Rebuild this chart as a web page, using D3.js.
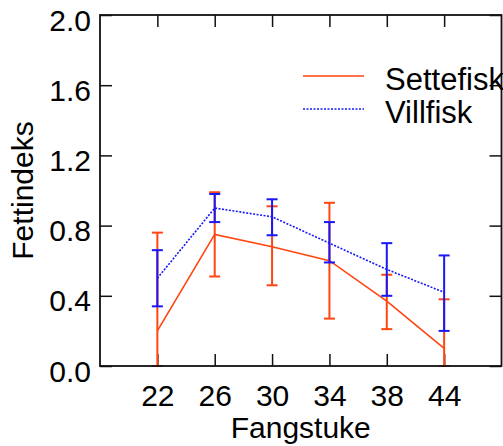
<!DOCTYPE html>
<html>
<head>
<meta charset="utf-8">
<script src="https://cdn.jsdelivr.net/npm/d3@7"></script>
<style>
  body { margin: 0; background: #fff; }
  text { font-family: "Liberation Sans", Arial, sans-serif; fill: #000; }
</style>
</head>
<body>
<div id="vis"></div>
<script>
// fangstuke categories
var weeks = ['22', '26', '30', '34', '38', '44'];

// settefisk (hatchery fish)
var setteMean = [0.20, 0.75, 0.68, 0.60, 0.37, 0.10];
var setteHi   = [0.76, 0.99, 0.91, 0.93, 0.52, 0.38];
var setteLo   = [0.00, 0.51, 0.46, 0.27, 0.21, 0.00];

// villfisk (wild fish)
var villMean = [0.50, 0.90, 0.85, 0.70, 0.55, 0.42];
var villHi   = [0.66, 0.98, 0.95, 0.82, 0.70, 0.63];
var villLo   = [0.34, 0.82, 0.745, 0.59, 0.40, 0.20];

var yTicks = [0.0, 0.4, 0.8, 1.2, 1.6, 2.0];

var width = 503, height = 446;
var margin = { top: 15, left: 100, bottom: 80, right: 1.5 };
var plotW = width - margin.left - margin.right;
var plotH = height - margin.top - margin.bottom;

var svg = d3.select('#vis').append('svg')
  .attr('width', width)
  .attr('height', height);

var g = svg.append('g')
  .attr('transform', 'translate(' + margin.left + ',' + margin.top + ')');

var x = d3.scalePoint().domain(weeks).range([0, plotW]).padding(1);
var y = d3.scaleLinear().domain([0, 2]).range([plotH, 0]);

var tickLen = 12;

// axes with inward ticks on all four sides
var fmt = d3.format('.1f');
var axLeft = g.append('g').call(d3.axisLeft(y).tickValues(yTicks).tickSize(-tickLen).tickFormat(fmt));
var axRight = g.append('g').attr('transform', 'translate(' + plotW + ',0)')
  .call(d3.axisRight(y).tickValues(yTicks).tickSize(-tickLen).tickFormat(''));
var axBottom = g.append('g').attr('transform', 'translate(0,' + plotH + ')')
  .call(d3.axisBottom(x).tickSize(-tickLen));
var axTop = g.append('g').call(d3.axisTop(x).tickSize(-tickLen).tickFormat(''));

[axLeft, axRight, axBottom, axTop].forEach(function (a) {
  a.select('.domain').remove();
  a.selectAll('line').attr('stroke', '#111').attr('stroke-width', 1.5);
  a.selectAll('text').style('font-size', '30px').style('font-family', '"Liberation Sans", Arial, sans-serif');
});
axLeft.selectAll('text').attr('x', -9).attr('dy', null).attr('y', 15);
axBottom.selectAll('text').attr('dy', null).attr('y', 40);

// data series
var series = [
  { name: 'Settefisk', mean: setteMean, lo: setteLo, hi: setteHi, color: '#ff4510', dash: null },
  { name: 'Villfisk', mean: villMean, lo: villLo, hi: villHi, color: '#1818f8', dash: '2,1.5' }
];

var line = d3.line()
  .x(function (d, i) { return x(weeks[i]); })
  .y(function (d) { return y(d); });

var capW = 5.5;
series.forEach(function (s) {
  var sg = g.append('g');
  sg.append('path')
    .attr('d', line(s.mean))
    .attr('fill', 'none')
    .attr('stroke', s.color)
    .attr('stroke-width', 1.6)
    .attr('stroke-dasharray', s.dash);

  var bars = sg.selectAll('.err').data(weeks).enter().append('g')
    .attr('stroke', s.color).attr('stroke-width', 2);
  bars.append('line')
    .attr('x1', function (d) { return x(d); }).attr('x2', function (d) { return x(d); })
    .attr('y1', function (d, i) { return y(s.lo[i]); })
    .attr('y2', function (d, i) { return y(s.hi[i]); });
  bars.append('line')
    .attr('x1', function (d) { return x(d) - capW; }).attr('x2', function (d) { return x(d) + capW; })
    .attr('y1', function (d, i) { return y(s.hi[i]); })
    .attr('y2', function (d, i) { return y(s.hi[i]); });
  bars.append('line')
    .attr('x1', function (d) { return x(d) - capW; }).attr('x2', function (d) { return x(d) + capW; })
    .attr('y1', function (d, i) { return y(s.lo[i]); })
    .attr('y2', function (d, i) { return y(s.lo[i]); });
});

// legend
var legend = svg.append('g');
series.forEach(function (s, i) {
  var ly = 76 + i * 33;
  legend.append('line')
    .attr('x1', 303).attr('x2', 364)
    .attr('y1', ly).attr('y2', ly)
    .attr('stroke', s.color)
    .attr('stroke-width', 1.6)
    .attr('stroke-dasharray', s.dash);
  legend.append('text')
    .attr('x', 385).attr('y', ly + 14)
    .style('font-size', '31px')
    .text(s.name);
});

// frame on top
g.append('rect')
  .attr('width', plotW).attr('height', plotH)
  .attr('fill', 'none')
  .attr('stroke', '#111')
  .attr('stroke-width', 1.8);

// axis titles
svg.append('text')
  .attr('x', margin.left + plotW / 2)
  .attr('y', 438)
  .attr('text-anchor', 'middle')
  .style('font-size', '30px')
  .text('Fangstuke');

svg.append('text')
  .attr('transform', 'translate(33,' + (margin.top + plotH / 2) + ') rotate(-90)')
  .attr('text-anchor', 'middle')
  .style('font-size', '30px')
  .text('Fettindeks');
</script>
</body>
</html>
